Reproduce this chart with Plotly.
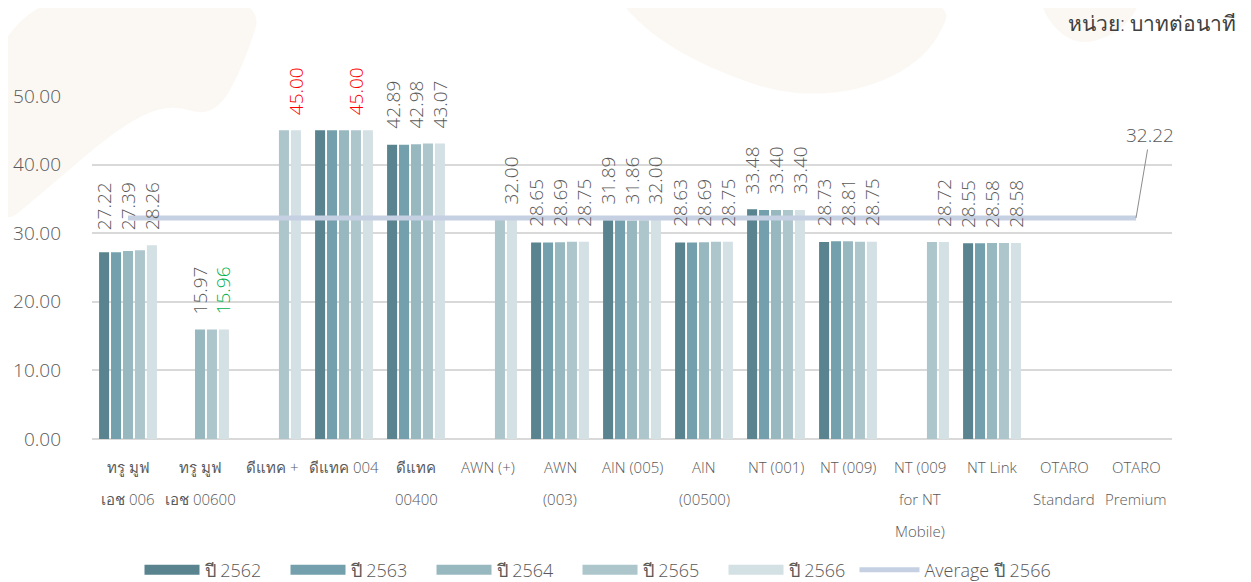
import plotly.graph_objects as go

# ---------------- data ----------------
CATEGORIES = [
    "ทรู มูฟ\nเอช 006", "ทรู มูฟ\nเอช 00600", "ดีแทค +", "ดีแทค 004", "ดีแทค\n00400",
    "AWN (+)", "AWN\n(003)", "AIN (005)", "AIN\n(00500)", "NT (001)", "NT (009)",
    "NT (009\nfor NT\nMobile)", "NT Link", "OTARO\nStandard", "OTARO\nPremium",
]
YEARS = ["ปี 2562", "ปี 2563", "ปี 2564", "ปี 2565", "ปี 2566"]

Y2562 = [27.22, None, None, 45.00, 42.89, None, 28.65, 31.89, 28.63, 33.48, 28.73, None, 28.55, None, None]
Y2563 = [27.22, None, None, 45.00, 42.89, None, 28.65, 31.89, 28.63, 33.40, 28.81, None, 28.55, None, None]
Y2564 = [27.39, 15.97, None, 45.00, 42.98, None, 28.69, 31.86, 28.69, 33.40, 28.81, None, 28.58, None, None]
Y2565 = [27.50, 15.97, 45.00, 45.00, 43.07, 32.00, 28.75, 31.90, 28.75, 33.40, 28.75, 28.72, 28.58, None, None]
Y2566 = [28.26, 15.96, 45.00, 45.00, 43.07, 32.00, 28.75, 32.00, 28.75, 33.40, 28.75, 28.72, 28.58, None, None]
SERIES = [Y2562, Y2563, Y2564, Y2565, Y2566]

AVERAGE_NAME = "Average ปี 2566"
AVERAGE_2566 = [32.22] * len(CATEGORIES)

# which category indices carry a data label, per series index
LABELLED = {
    0: [0, 4, 6, 7, 8, 9, 10, 12],
    2: [0, 1, 4, 6, 7, 8, 9, 10, 12],
    3: [3],
    4: [0, 1, 2, 4, 5, 6, 7, 8, 9, 10, 11, 12],
}
UNIT_TEXT = "หน่วย: บาทต่อนาที"

# ---------------- style ----------------
COLORS = ["#58838f", "#73a0ac", "#98b8c0", "#adc6cc", "#d3e0e4"]
AVG_COLOR = "#c5d0e2"
TEXT = "#595959"
LABEL_COLOR_OVERRIDE = {(2, 4): "#ff0000", (3, 3): "#ff0000", (1, 4): "#00b050"}
FONT = "Open Sans"
WEIGHT = 300
BARGAP = 0.17
BARGROUPGAP = 0.16

# figure geometry (page body has an 8px margin)
W, H = 1243, 574
M = dict(l=84, r=79, t=88, b=143)
PW = W - M["l"] - M["r"]
PH = H - M["t"] - M["b"]

X = list(range(len(CATEGORIES)))

fig = go.Figure()

for k, (name, vals) in enumerate(zip(YEARS, SERIES)):
    fig.add_trace(go.Bar(
        x=X, y=vals, name=name, marker=dict(color=COLORS[k], line=dict(width=0)),
        legendgroup=name, showlegend=False,
    ))

fig.add_trace(go.Scatter(
    x=X, y=AVERAGE_2566, mode="lines", name=AVERAGE_NAME, legendgroup="avg",
    line=dict(color=AVG_COLOR, width=5), showlegend=False,
))

# legend proxies (wide colour swatches)
for k, name in enumerate(YEARS):
    fig.add_trace(go.Scatter(
        x=[None], y=[None], mode="lines", name=name, legendgroup=name,
        line=dict(color=COLORS[k], width=16), legend="legend",
    ))
fig.add_trace(go.Scatter(
    x=[None], y=[None], mode="lines", name=AVERAGE_NAME, legendgroup="avg",
    line=dict(color=AVG_COLOR, width=5), legend="legend2",
))

annotations = []
slot = (1 - BARGAP) / len(SERIES)
for k, cats in LABELLED.items():
    for i in cats:
        v = SERIES[k][i]
        top = max(s[i] for s in SERIES if s[i] is not None)
        annotations.append(dict(
            x=i + (k - (len(SERIES) - 1) / 2) * slot, y=top, xref="x", yref="y",
            text=f"{v:.2f}", textangle=-90, showarrow=False,
            yanchor="bottom", xanchor="center", yshift=13,
            font=dict(family=FONT, size=19, weight=WEIGHT,
                      color=LABEL_COLOR_OVERRIDE.get((i, k), TEXT)),
        ))

# category labels, one line at a time for wide line spacing
for i, cat in enumerate(CATEGORIES):
    for j, line in enumerate(cat.split("\n")):
        annotations.append(dict(
            x=i, y=0, xref="x", yref="y", text=line, showarrow=False,
            yanchor="middle", xanchor="center", yshift=-28 - 32 * j,
            font=dict(family=FONT, size=15, weight=WEIGHT, color=TEXT),
        ))

# average value callout
last = len(CATEGORIES) - 1
annotations.append(dict(
    x=last, y=AVERAGE_2566[last], xref="x", yref="y", text=f"{AVERAGE_2566[last]:.2f}",
    showarrow=True, arrowhead=0, arrowwidth=1, arrowcolor="#8c8c8c",
    ax=14, ay=-83, standoff=0,
    font=dict(family=FONT, size=19, weight=WEIGHT, color=TEXT),
))

annotations.append(dict(
    x=1.0, y=1.0, xref="paper", yref="paper", text=UNIT_TEXT, showarrow=False,
    xanchor="right", yanchor="middle", xshift=66, yshift=73,
    font=dict(family=FONT, size=21, weight=WEIGHT, color="#404040"),
))


# faint decorative background blobs (pixel outlines -> paper coords)
def blob(points):
    pts = [((x - M["l"]) / PW, 1 - (y - M["t"]) / PH) for x, y in points]
    n = len(pts)
    mids = [((pts[i][0] + pts[(i + 1) % n][0]) / 2, (pts[i][1] + pts[(i + 1) % n][1]) / 2)
            for i in range(n)]
    d = f"M{mids[-1][0]},{mids[-1][1]}"
    for i in range(n):
        d += f" Q{pts[i][0]},{pts[i][1]} {mids[i][0]},{mids[i][1]}"
    return dict(type="path", path=d + " Z", xref="paper", yref="paper",
                fillcolor="rgba(238,222,205,0.22)", line=dict(width=0), layer="below")


shapes = [
    blob([(-20, -20), (260, -20), (235, 60), (205, 110), (160, 95), (110, 120),
          (40, 180), (-20, 230)]),
    blob([(600, -20), (950, -20), (925, 45), (860, 82), (780, 88), (700, 60), (640, 25)]),
    blob([(1020, -20), (1140, -20), (1115, 25), (1060, 40)]),
]

legend_font = dict(family=FONT, size=18, weight=WEIGHT, color=TEXT)
fig.update_layout(
    width=W, height=H,
    margin=dict(**M, autoexpand=False),
    paper_bgcolor="white", plot_bgcolor="rgba(0,0,0,0)",
    barmode="group", bargap=BARGAP, bargroupgap=BARGROUPGAP,
    font=dict(family=FONT, color=TEXT, weight=WEIGHT),
    xaxis=dict(range=[-0.5, len(CATEGORIES) - 0.5], showticklabels=False,
               showgrid=False, zeroline=False, showline=False, fixedrange=True),
    yaxis=dict(range=[0, 50], dtick=10, tickformat=".2f", showgrid=True,
               gridcolor="#d9d9d9", gridwidth=1.5, zeroline=True, zerolinecolor="#d9d9d9",
               zerolinewidth=2, showline=False, ticks="", ticklabelstandoff=30,
               tickfont=dict(family=FONT, size=19, weight=WEIGHT, color=TEXT)),
    legend=dict(orientation="h", x=0.1058, xanchor="left", xref="container",
                y=0.0209, yanchor="middle", yref="container", font=legend_font,
                entrywidth=76, entrywidthmode="pixels", itemwidth=55,
                traceorder="normal", bgcolor="rgba(0,0,0,0)"),
    legend2=dict(orientation="h", x=0.681, xanchor="left", xref="container",
                 y=0.0209, yanchor="middle", yref="container", font=legend_font,
                 itemwidth=60, bgcolor="rgba(0,0,0,0)"),
    annotations=annotations,
    shapes=shapes,
    showlegend=True,
)

fig.write_html("out.html")
